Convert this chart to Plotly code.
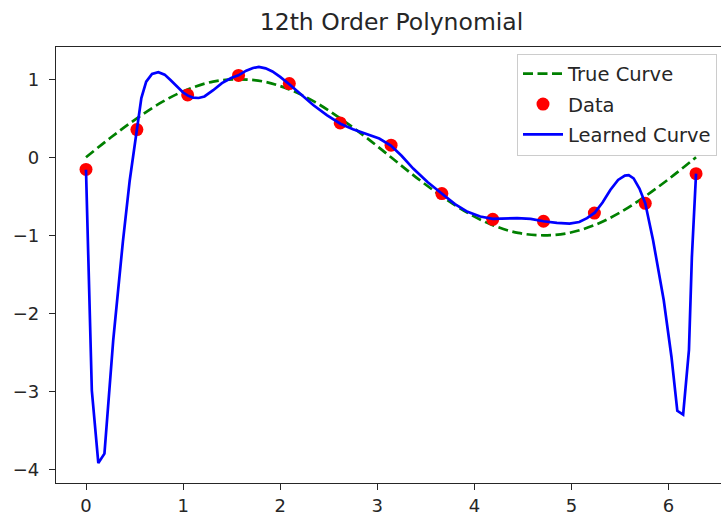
import plotly.graph_objects as go

# Reference curve (sin-shaped), sampled every pi/12
true_x = [0.0, 0.262, 0.524, 0.785, 1.047, 1.309, 1.571, 1.833, 2.094, 2.356,
          2.618, 2.880, 3.142, 3.403, 3.665, 3.927, 4.189, 4.451, 4.712, 4.974,
          5.236, 5.498, 5.760, 6.021, 6.283]
true_y = [0.0, 0.26, 0.50, 0.71, 0.87, 0.97, 1.0, 0.97, 0.87, 0.71,
          0.50, 0.26, 0.0, -0.26, -0.50, -0.71, -0.87, -0.97, -1.0, -0.97,
          -0.87, -0.71, -0.50, -0.26, 0.0]

# Noisy observations
data_x = [0.0, 0.524, 1.047, 1.571, 2.094, 2.618, 3.142, 3.665, 4.189,
          4.712, 5.236, 5.760, 6.283]
data_y = [-0.155, 0.355, 0.80, 1.05, 0.945, 0.44, 0.155, -0.465, -0.795,
          -0.82, -0.715, -0.59, -0.21]

# Fitted 12th order polynomial
learned_x = [0.0, 0.06, 0.127, 0.19, 0.28, 0.38, 0.45, 0.52, 0.57, 0.62,
             0.68, 0.745, 0.81, 0.87, 0.94, 1.0, 1.05, 1.10, 1.16, 1.22,
             1.31, 1.40, 1.50, 1.57, 1.65, 1.72, 1.78, 1.85, 1.92, 2.0,
             2.10, 2.20, 2.34, 2.48, 2.62, 2.75, 2.89, 3.02, 3.14, 3.25,
             3.37, 3.52, 3.67, 3.80, 3.93, 4.06, 4.19, 4.32, 4.44, 4.58,
             4.71, 4.85, 4.98, 5.08, 5.16, 5.24, 5.32, 5.40, 5.48, 5.55,
             5.59, 5.64, 5.70, 5.76, 5.84, 5.95, 6.03, 6.09, 6.15, 6.21,
             6.24, 6.283]
learned_y = [-0.16, -2.99, -3.92, -3.80, -2.35, -1.08, -0.30, 0.35, 0.76, 0.97,
             1.07, 1.09, 1.06, 0.99, 0.90, 0.83, 0.79, 0.765, 0.76, 0.78,
             0.86, 0.95, 1.02, 1.05, 1.11, 1.145, 1.158, 1.14, 1.10, 1.03,
             0.93, 0.82, 0.67, 0.54, 0.43, 0.36, 0.30, 0.24, 0.15, 0.02,
             -0.145, -0.32, -0.47, -0.60, -0.70, -0.76, -0.79, -0.785, -0.78, -0.79,
             -0.82, -0.84, -0.85, -0.83, -0.78, -0.71, -0.58, -0.42, -0.29, -0.235,
             -0.23, -0.27, -0.40, -0.59, -1.06, -1.83, -2.56, -3.25, -3.30, -2.47,
             -1.28, -0.21]

x_ticks = [0, 1, 2, 3, 4, 5, 6]
y_ticks = [-4, -3, -2, -1, 0, 1]

FONT = "DejaVu Sans"
INK = "#262626"

fig = go.Figure()
fig.add_trace(go.Scatter(
    x=true_x, y=true_y, mode="lines", name="True Curve", legendgroup="a",
    line=dict(color="#008000", width=2.7, dash="10px,4.5px", shape="spline"),
))
fig.add_trace(go.Scatter(
    x=data_x, y=data_y, mode="markers", name="Data", legendgroup="b",
    marker=dict(color="#FF0000", size=13),
))
fig.add_trace(go.Scatter(
    x=learned_x, y=learned_y, mode="lines", name="Learned Curve", legendgroup="c",
    line=dict(color="#0000FF", width=2.7),
))

fig.update_layout(
    width=721, height=515,
    margin=dict(l=56, r=0, t=47, b=32),
    paper_bgcolor="white", plot_bgcolor="white",
    font=dict(family=FONT, size=18, color=INK),
    title=dict(text="12th Order Polynomial", x=0.543, xanchor="center",
               y=0.957, yanchor="middle",
               font=dict(family=FONT, size=23.5, color=INK)),
    legend=dict(x=0.994, xanchor="right", y=0.985, yanchor="top",
                bgcolor="rgba(255,255,255,0.8)", bordercolor="#cccccc",
                borderwidth=1, font=dict(family=FONT, size=19.5, color=INK),
                tracegroupgap=2, itemwidth=40),
    showlegend=True,
)
fig.update_xaxes(
    range=[-0.309, 6.54], tickvals=x_ticks, ticks="outside", ticklen=6,
    tickcolor=INK, showline=True, linecolor=INK, linewidth=1.3, mirror=True,
    showgrid=False, zeroline=False, tickfont=dict(size=18),
)
fig.update_yaxes(
    range=[-4.176, 1.414], tickvals=y_ticks, ticks="outside", ticklen=6,
    tickcolor=INK, showline=True, linecolor=INK, linewidth=1.3, mirror=False,
    showgrid=False, zeroline=False, tickfont=dict(size=18),
    ticklabelstandoff=6,
)

fig.write_html("out.html")
